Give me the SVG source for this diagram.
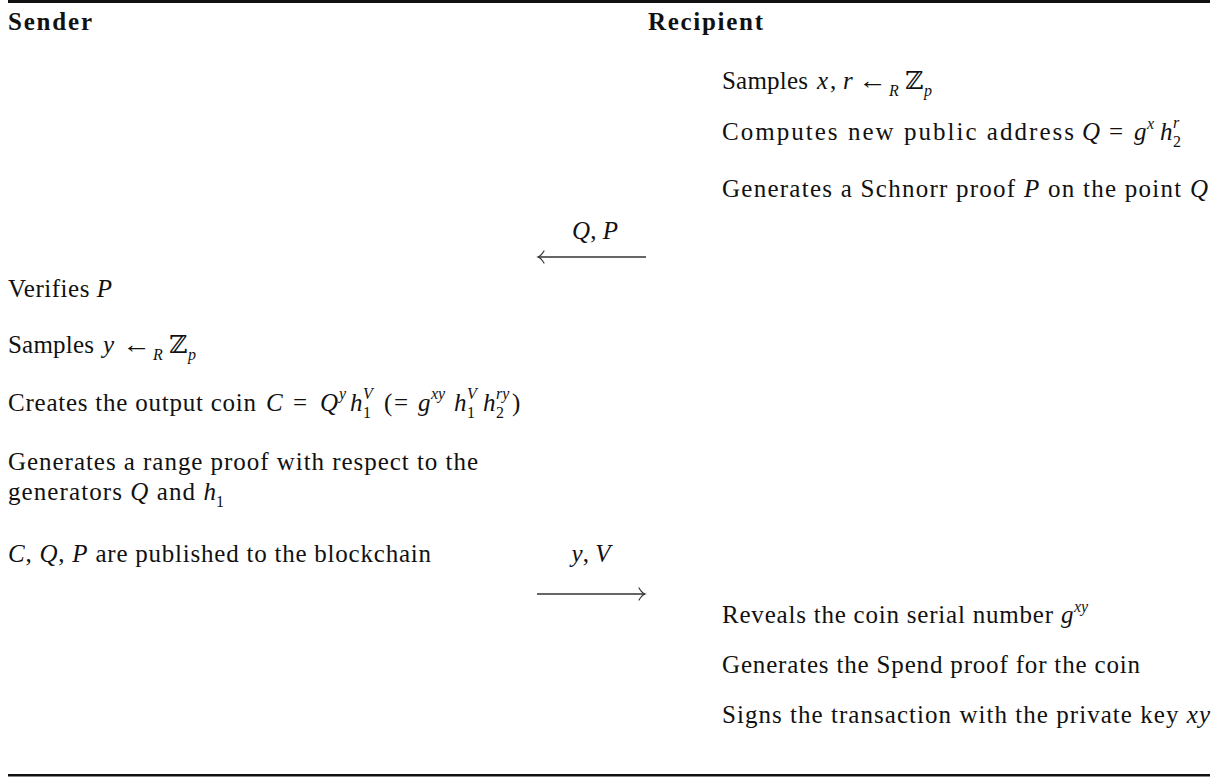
<svg xmlns="http://www.w3.org/2000/svg" width="1222" height="778" viewBox="0 0 1222 778">
<style>
text{font-family:"Liberation Serif","DejaVu Serif",serif;font-size:25px;fill:#111}
.b{font-weight:bold}
.i{font-style:italic}
.s{font-size:16px}
.m{text-anchor:middle}
.msg{fill:none;stroke:#333;stroke-width:1.3}
</style>
<defs>
<marker id="ah" markerUnits="userSpaceOnUse" markerWidth="14" markerHeight="16" refX="10" refY="7" orient="auto" overflow="visible">
<path d="M4,1 Q7,6 10,7 Q7,8 4,13" fill="none" stroke="#333" stroke-width="1.2" stroke-linecap="round"/>
</marker>
</defs>
<rect id="top-rule" x="8" y="0" width="1202" height="3" fill="#111"/>
<rect id="bottom-rule" x="8" y="774" width="1202" height="2.5" fill="#111"/>

<g id="header">
<text class="b" x="8" y="30" textLength="84" lengthAdjust="spacing">Sender</text>
<text class="b" x="648" y="30" textLength="115" lengthAdjust="spacing">Recipient</text>
</g>

<g id="recipient-sample">
<text x="722" y="89" textLength="86" lengthAdjust="spacing">Samples</text>
<text y="89"><tspan class="i" x="817">x</tspan><tspan x="830">,</tspan><tspan class="i" x="843">r</tspan></text>
<text x="858" y="89" textLength="29" lengthAdjust="spacingAndGlyphs">←</text>
<text y="96"><tspan class="s i" x="889">R</tspan><tspan class="s i" x="924">p</tspan></text>
<text x="905" y="89">ℤ</text>
</g>

<g id="recipient-compute">
<text x="722" y="140" textLength="352" lengthAdjust="spacing">Computes new public address</text>
<text y="140"><tspan class="i" x="1082">Q</tspan><tspan x="1109">=</tspan><tspan class="i" x="1134">g</tspan><tspan class="s i" x="1147" y="129">x</tspan><tspan class="i" x="1160" y="140">h</tspan><tspan class="s" x="1173" y="147">2</tspan><tspan class="s i" x="1173" y="128">r</tspan></text>
</g>

<g id="recipient-schnorr">
<text x="722" y="197" textLength="486" lengthAdjust="spacing">Generates a Schnorr proof <tspan class="i">P</tspan> on the point <tspan class="i">Q</tspan></text>
</g>

<g id="sender-verify">
<text x="8" y="297" textLength="104" lengthAdjust="spacing">Verifies <tspan class="i">P</tspan></text>
</g>

<g id="sender-sample">
<text x="8" y="353" textLength="86" lengthAdjust="spacing">Samples</text>
<text class="i" x="103" y="353">y</text>
<text x="122" y="353" textLength="29" lengthAdjust="spacingAndGlyphs">←</text>
<text y="360"><tspan class="s i" x="153">R</tspan><tspan class="s i" x="188">p</tspan></text>
<text x="169" y="353">ℤ</text>
</g>

<g id="sender-coin">
<text x="8" y="411" textLength="248" lengthAdjust="spacing">Creates the output coin</text>
<text y="411"><tspan class="i" x="266">C</tspan><tspan x="293">=</tspan><tspan class="i" x="320">Q</tspan><tspan class="s i" x="339" y="399">y</tspan><tspan class="i" x="350" y="411">h</tspan><tspan class="s" x="363" y="418">1</tspan><tspan class="s i" x="363" y="399">V</tspan><tspan x="384" y="411">(</tspan><tspan x="394">=</tspan><tspan class="i" x="418">g</tspan><tspan class="s i" x="431" y="399">xy</tspan><tspan class="i" x="454" y="411">h</tspan><tspan class="s" x="467" y="418">1</tspan><tspan class="s i" x="467" y="399">V</tspan><tspan class="i" x="483" y="411">h</tspan><tspan class="s" x="496" y="418">2</tspan><tspan class="s i" x="496" y="399">ry</tspan><tspan x="512" y="411">)</tspan></text>
</g>

<g id="sender-range">
<text x="8" y="470" textLength="470" lengthAdjust="spacing">Generates a range proof with respect to the</text>
<text x="8" y="500" textLength="208" lengthAdjust="spacing">generators <tspan class="i">Q</tspan> and <tspan class="i">h</tspan></text>
<text class="s" x="216" y="507">1</text>
</g>

<g id="sender-publish">
<text x="8" y="562" textLength="423" lengthAdjust="spacing"><tspan class="i">C</tspan>, <tspan class="i">Q</tspan>, <tspan class="i">P</tspan> are published to the blockchain</text>
</g>

<g id="recipient-reveal">
<text x="722" y="623" textLength="331" lengthAdjust="spacing">Reveals the coin serial number</text>
<text class="i" x="1061" y="623">g</text>
<text class="s i" x="1074" y="612">xy</text>
</g>

<g id="recipient-spend">
<text x="722" y="673" textLength="418" lengthAdjust="spacing">Generates the Spend proof for the coin</text>
</g>

<g id="recipient-sign">
<text x="722" y="723" textLength="488" lengthAdjust="spacing">Signs the transaction with the private key <tspan class="i">xy</tspan></text>
</g>

<g id="connectors">
<g id="msg-QP">
<text class="m" x="595" y="239"><tspan class="i">Q</tspan>, <tspan class="i">P</tspan></text>
<path class="msg" d="M646,257 H538" marker-end="url(#ah)"/>
</g>
<g id="msg-yV">
<text class="m" x="591" y="562"><tspan class="i">y</tspan>, <tspan class="i">V</tspan></text>
<path class="msg" d="M537,594 H645" marker-end="url(#ah)"/>
</g>
</g>
</svg>
